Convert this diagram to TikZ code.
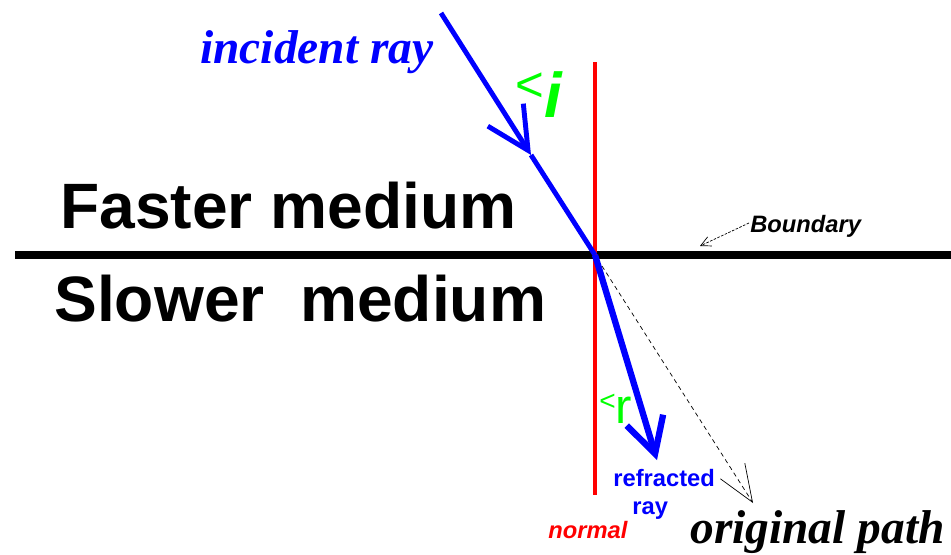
\documentclass[tikz,border=0pt]{standalone}
\usepackage{fontspec}
\setmainfont{Liberation Serif}
\setsansfont{Liberation Sans}
\usetikzlibrary{arrows.meta}
\usetikzlibrary{positioning}

\begin{document}
\begin{tikzpicture}[x=0.02cm, y=-0.02cm]%[very thick]
    \tikzset{
        every node/.style={inner sep=0pt, anchor=base west},
        ray/.style={blue, line width=2.8pt},
        medium/.style={font=\sffamily\bfseries\fontsize{36.5}{40}\selectfont},
        tag/.style={font=\sffamily\bfseries\itshape\fontsize{13.5}{15}\selectfont},
        path name/.style={font=\rmfamily\bfseries\itshape\fontsize{27}{30}\selectfont}
    }
    \useasboundingbox (0,0) rectangle (951,555);

    \coordinate (src) at (441,13);
    \coordinate (imid) at (531,155);
    \coordinate (O) at (595,255);
    \coordinate (rtip) at (657,460);
    \coordinate (dstart) at (602,266);
    \coordinate (dtip) at (753,503);
    \coordinate (N1) at (595,62);
    \coordinate (N2) at (595,495);
    \coordinate (B1) at (15,255);
    \coordinate (B2) at (951,255);
    \coordinate (btail) at (749,223);
    \coordinate (bhead) at (700,246);

    % boundary and normal
    \draw [line width=5.1pt] (B1) -- (B2);
    \draw [red, line width=2.8pt] (N1) -- (N2);

    % rays
    \draw [ray, -{Straight Barb[length=0.84cm, width=0.84cm]}] (src) -- (imid);
    \draw [ray] (imid) -- (O);
    \draw [ray, line width=3.6pt, -{Straight Barb[length=0.7cm, width=0.76cm]}] (O) -- (rtip);
    \draw [dash pattern=on 2.5pt off 2pt, thin, -{Straight Barb[length=0.74cm, width=0.58cm]}] (dstart) -- (dtip);
    \draw [dash pattern=on 1.5pt off 0.8pt, thin, -{Straight Barb[length=0.2cm, width=0.2cm]}] (btail) -- (bhead);

    \foreach \x/\y/\t in {60/228/Faster medium, 54/321/Slower~~medium} {
        \node [medium] (m\y) at (\x,\y) {\t};
    }

    \node [path name, blue] (inc) at (200,63) {incident ray};
    \node [path name] (orig) at (690,543) {original path};
    \node [tag] (bnd) at (750,232) {Boundary};
    \node [tag, red] (nrm) at (548,538) {normal};
    \node [tag, blue, font=\sffamily\bfseries\fontsize{13.5}{15}\selectfont] (refr) at (613,486) {refracted};
    \node [tag, blue, font=\sffamily\bfseries\fontsize{13.5}{15}\selectfont] (refr2) at (632,514) {ray};

    \node [green, font=\sffamily] (angi) at (515,117)
        {\raisebox{9pt}{\fontsize{28}{30}\selectfont <}\fontsize{36}{40}\selectfont\bfseries\itshape i};
    \node [green, font=\sffamily] (angr) at (599,423)
        {\raisebox{7pt}{\fontsize{16}{18}\selectfont <}\fontsize{28}{30}\selectfont r};
\end{tikzpicture}
\end{document}
